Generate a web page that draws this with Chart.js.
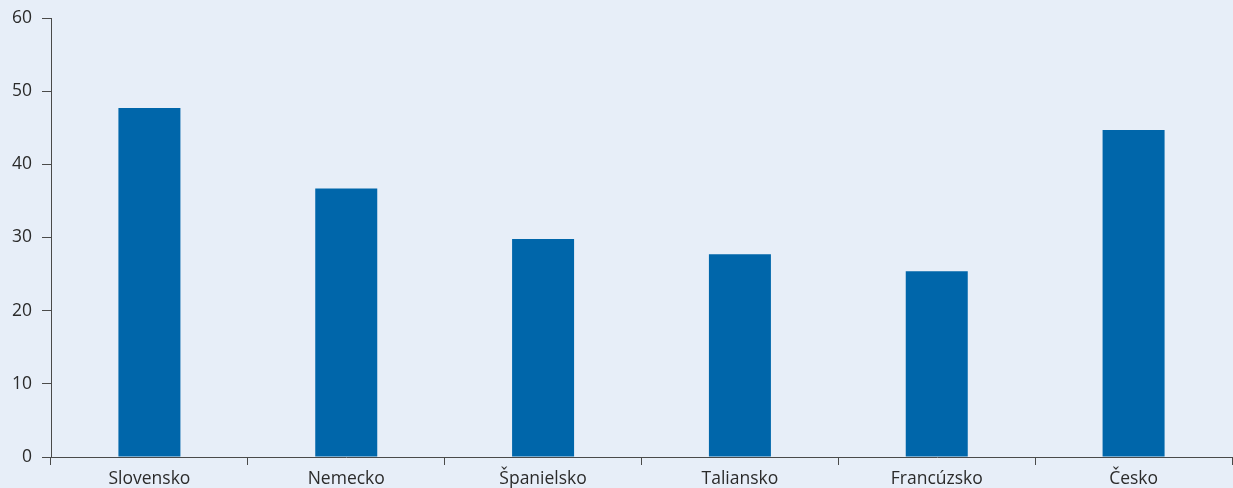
<!DOCTYPE html>
<html>
<head>
<meta charset="utf-8">
<script src="https://cdn.jsdelivr.net/npm/chart.js@4"></script>
<style>
  html, body { margin: 0; padding: 0; background: #e7eef8; }
  #wrap { width: 1233px; height: 488px; }
</style>
</head>
<body>
<div id="wrap"><canvas id="chart"></canvas></div>
<script>
// data
const countries = ['Slovensko', 'Nemecko', 'Španielsko', 'Taliansko', 'Francúzsko', 'Česko'];
const values = [47.7, 36.7, 29.8, 27.7, 25.4, 44.7];
const yTicks = [0, 10, 20, 30, 40, 50, 60];

const axisColor = '#4a4a4a';
const textColor = '#2b2b2b';

Chart.defaults.font.family = "'Open Sans', sans-serif";
Chart.defaults.font.size = 17.5;
Chart.defaults.color = textColor;

new Chart(document.getElementById('chart'), {
    type: 'bar',
    data: {
        labels: countries,
        datasets: [{
            data: values,
            backgroundColor: '#0066aa',
            barPercentage: 0.315,
            categoryPercentage: 1
        }]
    },
    options: {
        responsive: true,
        maintainAspectRatio: false,
        animation: false,
        layout: { padding: { top: 18, right: 1, left: 0, bottom: 0 } },
        plugins: { legend: { display: false }, tooltip: { enabled: false } },
        scales: {
            x: {
                grid: { offset: true, drawOnChartArea: false, drawTicks: true, tickLength: 8, color: axisColor },
                border: { color: axisColor, width: 1 },
                ticks: { padding: 4, color: textColor },
                afterFit: s => { s.height = 31; s.paddingLeft = 0; s.paddingRight = 0; }
            },
            y: {
                min: 0,
                max: 60,
                afterBuildTicks: s => { s.ticks = yTicks.map(v => ({ value: v })); },
                grid: { drawOnChartArea: false, drawTicks: true, tickLength: 9, color: axisColor },
                border: { color: axisColor, width: 1 },
                ticks: { padding: 10, color: textColor },
                afterFit: s => { s.width = 51; s.paddingTop = 0; s.paddingBottom = 0; }
            }
        }
    }
});
</script>
</body>
</html>
